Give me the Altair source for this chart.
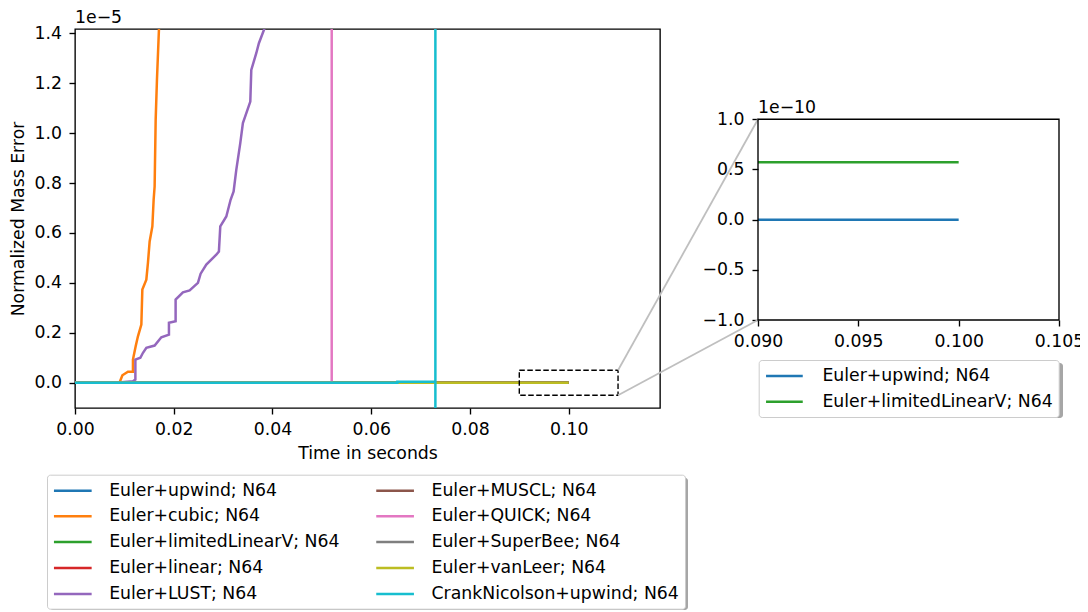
import altair as alt
import pandas as pd

# ---------------- data ----------------
SERIES = ["Euler+upwind; N64", "Euler+cubic; N64", "Euler+limitedLinearV; N64",
          "Euler+linear; N64", "Euler+LUST; N64", "Euler+MUSCL; N64",
          "Euler+QUICK; N64", "Euler+SuperBee; N64", "Euler+vanLeer; N64",
          "CrankNicolson+upwind; N64"]
COLORS = ["#1f77b4", "#ff7f0e", "#2ca02c", "#d62728", "#9467bd",
          "#8c564b", "#e377c2", "#7f7f7f", "#bcbd22", "#17becf"]

# time in seconds / normalized mass error in units of 1e-5
UPWIND_T = [0.0, 0.1]
UPWIND_V = [0.0, 0.0]
CUBIC_T = [0.0, 0.00905, 0.00960, 0.01073, 0.01174, 0.01174, 0.01229, 0.01275,
           0.01344, 0.01364, 0.01445, 0.01478, 0.01512, 0.01567, 0.01593,
           0.01613, 0.01634, 0.01660, 0.01700, 0.0172]
CUBIC_V = [0.0, 0.002, 0.030, 0.044, 0.044, 0.093, 0.146, 0.186,
           0.233, 0.373, 0.413, 0.481, 0.566, 0.626, 0.733,
           0.786, 1.053, 1.213, 1.413, 1.5]
LIMLIN_T = [0.0, 0.1]
LIMLIN_V = [0.0, 0.0]
LINEAR_T = [0.0, 0.1]
LINEAR_V = [0.0, 0.0]
LUST_T = [0.0, 0.00939, 0.01174, 0.01223, 0.01223, 0.01324, 0.01377, 0.01445,
          0.01613, 0.01749, 0.01903, 0.01903, 0.02038, 0.02038, 0.02186,
          0.02322, 0.02490, 0.02545, 0.02660, 0.02862, 0.02915, 0.02943,
          0.03065, 0.03152, 0.03213, 0.03267, 0.03348, 0.03401, 0.03551,
          0.03571, 0.03672, 0.03725, 0.03840, 0.0390]
LUST_V = [0.0, 0.002, 0.006, 0.013, 0.093, 0.100, 0.120, 0.140,
          0.149, 0.182, 0.193, 0.240, 0.246, 0.333, 0.362,
          0.370, 0.400, 0.437, 0.473, 0.513, 0.526, 0.626,
          0.666, 0.733, 0.766, 0.853, 0.960, 1.040, 1.126,
          1.253, 1.320, 1.360, 1.420, 1.46]
MUSCL_T = [0.0, 0.1]
MUSCL_V = [0.0, 0.0]
QUICK_T = [0.0, 0.0520, 0.0520]
QUICK_V = [0.0, 0.0, 50.0]
SUPERBEE_T = [0.0, 0.1]
SUPERBEE_V = [0.0, 0.0]
VANLEER_T = [0.0, 0.1]
VANLEER_V = [0.0, 0.0]
CN_T = [0.0, 0.0653, 0.0653, 0.0730, 0.0730, 0.0730]
CN_V = [0.0, 0.0, 0.004, 0.004, -50.0, 50.0]

# inset: units of 1e-10
INSET_SERIES = ["Euler+upwind; N64", "Euler+limitedLinearV; N64"]
INSET_COLORS = ["#1f77b4", "#2ca02c"]
INSET_UPWIND_T = [0.09, 0.1]
INSET_UPWIND_V = [0.0, 0.0]
INSET_LIMLIN_T = [0.09, 0.1]
INSET_LIMLIN_V = [0.571, 0.571]

X_TICKS = [0.0, 0.02, 0.04, 0.06, 0.08, 0.10]
Y_TICKS = [0.0, 0.2, 0.4, 0.6, 0.8, 1.0, 1.2, 1.4]
IX_TICKS = [0.090, 0.095, 0.100, 0.105]
IY_TICKS = [-1.0, -0.5, 0.0, 0.5, 1.0]

# ---------------- layout ----------------
W, H = 585, 379
XDOM = [0.0, 0.1185]
YDOM = [-0.1012, 1.417]
IXDOM = [0.090, 0.105]
IYDOM = [-1.0, 1.0]
IX_RANGE = [683, 984]
IY_RANGE = [291, 90.3]
ZOOM_BOX = [0.09, 0.11, -0.05, 0.05]
FONT = "DejaVu Sans"
FS = 17.3
SYM = 17.3  # nominal legend symbol box (px)

series_pts = [
    (UPWIND_T, UPWIND_V), (CUBIC_T, CUBIC_V), (LIMLIN_T, LIMLIN_V),
    (LINEAR_T, LINEAR_V), (LUST_T, LUST_V), (MUSCL_T, MUSCL_V),
    (QUICK_T, QUICK_V), (SUPERBEE_T, SUPERBEE_V), (VANLEER_T, VANLEER_V),
    (CN_T, CN_V)]
rows = []
for name, (ts, vs) in zip(SERIES, series_pts):
    for i, (t, v) in enumerate(zip(ts, vs)):
        rows.append({"series": name, "t": t, "v": v, "i": i})
df = pd.DataFrame(rows)

irows = []
for name, ts, vs in [(INSET_SERIES[0], INSET_UPWIND_T, INSET_UPWIND_V),
                     (INSET_SERIES[1], INSET_LIMLIN_T, INSET_LIMLIN_V)]:
    for i, (t, v) in enumerate(zip(ts, vs)):
        irows.append({"series": name, "t": t, "v": v, "i": i})
idf = pd.DataFrame(irows)


def line_symbol(length):
    # horizontal line starting at the left edge of the nominal symbol box
    r = SYM / 2
    return "M-1,0H%.3f" % (length / r - 1)


xs = alt.X("t:Q", scale=alt.Scale(domain=XDOM, nice=False, zero=False),
           axis=alt.Axis(values=X_TICKS, format=".2f", labelBaseline="alphabetic",
                         labelPadding=20, titleX=W / 2, titleY=50,
                         titleBaseline="alphabetic", titleAlign="center"),
           title="Time in seconds")
ys = alt.Y("v:Q", scale=alt.Scale(domain=YDOM, nice=False, zero=False),
           axis=alt.Axis(values=Y_TICKS, format=".1f", labelPadding=7.6,
                         titleX=-56.8, titleY=H / 2, titleAngle=270,
                         titleBaseline="middle", titleAlign="center"),
           title="Normalized Mass Error")
main_color = alt.Color(
    "series:N",
    scale=alt.Scale(domain=SERIES, range=COLORS),
    legend=alt.Legend(title=None, orient="none", legendX=-28, legendY=445.7,
                      columns=2, symbolType=line_symbol(37.7), symbolSize=SYM * SYM,
                      symbolStrokeWidth=2.5, labelOffset=37.7 + 16.2 - SYM,
                      columnPadding=31.3, rowPadding=6.9, padding=5.6,
                      strokeColor="#cccccc", fillColor="white", cornerRadius=3,
                      labelFont=FONT, labelFontSize=FS, labelColor="black",
                      labelLimit=400))

base = alt.Chart(df)
line_layers = [
    base.transform_filter(alt.datum.series == name)
    .mark_line(clip=True, strokeWidth=2.5)
    .encode(x=xs, y=ys, color=main_color, order=alt.Order("i:Q"))
    for name in SERIES
]

box_df = pd.DataFrame([{"x0": ZOOM_BOX[0], "x1": ZOOM_BOX[1],
                        "y0": ZOOM_BOX[2], "y1": ZOOM_BOX[3]}])
zoom_rect = alt.Chart(box_df).mark_rect(
    fillOpacity=0, stroke="black", strokeWidth=1.4, strokeDash=[5.5, 2.5],
    clip=False).encode(x="x0:Q", x2="x1:Q", y="y0:Q", y2="y1:Q")


def px_to_t(px):
    return XDOM[0] + px / W * (XDOM[1] - XDOM[0])


def px_to_v(py):
    return YDOM[1] - py / H * (YDOM[1] - YDOM[0])


conn_df = pd.DataFrame([
    {"x0": ZOOM_BOX[1], "y0": ZOOM_BOX[3], "x1": px_to_t(IX_RANGE[0]), "y1": px_to_v(IY_RANGE[1])},
    {"x0": ZOOM_BOX[1], "y0": ZOOM_BOX[2], "x1": px_to_t(IX_RANGE[0]), "y1": px_to_v(IY_RANGE[0])},
])
connectors = alt.Chart(conn_df).mark_rule(
    color="#bfbfbf", strokeWidth=1.8, clip=False).encode(
    x="x0:Q", y="y0:Q", x2="x1:Q", y2="y1:Q")

offset_df = pd.DataFrame([{"t": XDOM[0], "v": YDOM[1], "label": "1e\u22125"}])
offset_text = alt.Chart(offset_df).mark_text(
    align="left", baseline="alphabetic", dy=-5.7, font=FONT, fontSize=FS,
    color="black", clip=False).encode(x="t:Q", y="v:Q", text="label:N")

one = pd.DataFrame([{"k": 0}])
shadow_main = alt.Chart(one).mark_rect(color="#a6a6a6", clip=False, cornerRadius=3).encode(
    x=alt.value(-25), x2=alt.value(613), y=alt.value(448.7), y2=alt.value(581))
shadow_inset = alt.Chart(one).mark_rect(color="#a6a6a6", clip=False, cornerRadius=3).encode(
    x=alt.value(686.7), x2=alt.value(988), y=alt.value(334), y2=alt.value(389))

main = alt.layer(shadow_main, shadow_inset, *line_layers, zoom_rect, connectors, offset_text)

# ---------------- inset ----------------
ixs = alt.X("t:Q", scale=alt.Scale(domain=IXDOM, range=IX_RANGE, nice=False, zero=False),
            axis=alt.Axis(orient="bottom", offset=-(H - IY_RANGE[0]), values=IX_TICKS,
                          format=".3f", labelBaseline="alphabetic", labelPadding=20,
                          title=None))
iys = alt.Y("v:Q", scale=alt.Scale(domain=IYDOM, range=IY_RANGE, nice=False, zero=False),
            axis=alt.Axis(orient="left", offset=-IX_RANGE[0], values=IY_TICKS,
                          format=".1f", labelPadding=8, title=None))
inset_color = alt.Color(
    "series:N",
    scale=alt.Scale(domain=INSET_SERIES, range=INSET_COLORS),
    legend=alt.Legend(title=None, orient="none", legendX=683.7, legendY=331,
                      symbolType=line_symbol(36.7), symbolSize=SYM * SYM,
                      symbolStrokeWidth=2.5, labelOffset=36.7 + 18.3 - SYM,
                      rowPadding=6.8, padding=6,
                      strokeColor="#cccccc", fillColor="white", cornerRadius=3,
                      labelFont=FONT, labelFontSize=FS, labelColor="black",
                      labelLimit=400))
inset_lines = alt.Chart(idf).mark_line(strokeWidth=2.5, clip=False).encode(
    x=ixs, y=iys, color=inset_color, order=alt.Order("i:Q"))
frame_df = pd.DataFrame([{"x0": IXDOM[0], "x1": IXDOM[1], "y0": IYDOM[0], "y1": IYDOM[1]}])
inset_frame = alt.Chart(frame_df).mark_rect(
    fillOpacity=0, stroke="black", strokeWidth=1.36, clip=False).encode(
    x="x0:Q", x2="x1:Q", y="y0:Q", y2="y1:Q")
ioff_df = pd.DataFrame([{"t": IXDOM[0], "v": IYDOM[1], "label": "1e\u221210"}])
inset_text = alt.Chart(ioff_df).mark_text(
    align="left", baseline="alphabetic", dy=-6, font=FONT, fontSize=FS,
    color="black", clip=False).encode(x="t:Q", y="v:Q", text="label:N")
inset = alt.layer(inset_lines, inset_frame, inset_text)

chart = alt.layer(main, inset).resolve_scale(
    x="independent", y="independent", color="independent"
).properties(
    width=W, height=H,
    autosize=alt.AutoSizeParams(type="none"),
    padding={"left": 67, "top": 21, "right": 420, "bottom": 204},
).configure_view(
    stroke="black", strokeWidth=1.36
).configure_axis(
    labelFont=FONT, labelFontSize=FS, labelColor="black",
    titleFont=FONT, titleFontSize=FS, titleFontWeight="normal", titleColor="black",
    tickColor="black", tickSize=6, tickWidth=1.36, domain=False, grid=False,
    labelFlush=False, labelOverlap=False,
)

chart.save("out.html", embed_options={"renderer": "svg", "actions": False})
